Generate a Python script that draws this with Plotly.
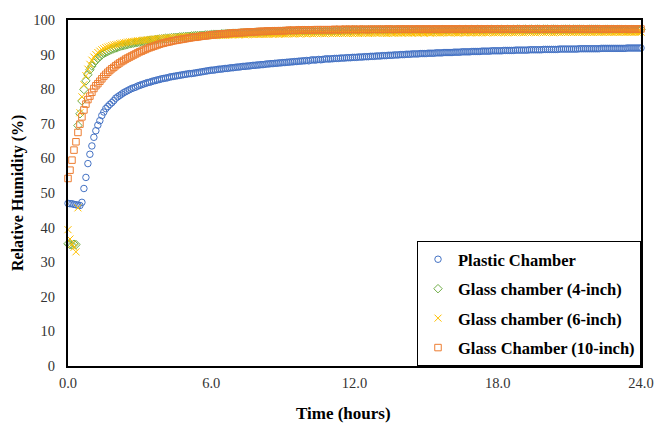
import plotly.graph_objects as go

STEP_MIN = 5  # sampling interval, minutes

plastic = [
    47.0, 46.9, 46.9, 46.7, 46.6, 46.5, 46.4, 47.3, 51.3, 54.5, 58.5, 61.2,
    63.6, 66.1, 68.0, 69.6, 70.9, 72.4, 73.4, 74.4, 75.0, 75.6, 76.1, 76.7,
    77.4, 77.8, 78.2, 78.6, 79.0, 79.3, 79.6, 79.9, 80.2, 80.4, 80.6, 80.9,
    81.1, 81.3, 81.5, 81.7, 81.9, 82.0, 82.2, 82.4, 82.5, 82.7, 82.8, 83.0,
    83.1, 83.2, 83.3, 83.5, 83.6, 83.7, 83.8, 83.9, 84.0, 84.1, 84.2, 84.3,
    84.4, 84.5, 84.5, 84.6, 84.7, 84.8, 84.9, 85.0, 85.1, 85.2, 85.3, 85.4,
    85.5, 85.5, 85.6, 85.7, 85.8, 85.8, 85.9, 86.0, 86.0, 86.1, 86.2, 86.2,
    86.3, 86.4, 86.4, 86.5, 86.6, 86.6, 86.7, 86.7, 86.8, 86.9, 86.9, 87.0,
    87.0, 87.1, 87.1, 87.2, 87.3, 87.3, 87.4, 87.4, 87.5, 87.5, 87.6, 87.6,
    87.7, 87.7, 87.8, 87.8, 87.9, 87.9, 88.0, 88.0, 88.1, 88.1, 88.2, 88.2,
    88.3, 88.2, 88.4, 88.5, 88.4, 88.5, 88.6, 88.5, 88.6, 88.7, 88.8, 88.7,
    88.8, 88.8, 88.9, 88.9, 88.9, 89.0, 89.0, 89.0, 89.1, 89.1, 89.1, 89.2,
    89.2, 89.2, 89.3, 89.3, 89.3, 89.4, 89.4, 89.4, 89.5, 89.5, 89.5, 89.6,
    89.6, 89.6, 89.7, 89.7, 89.7, 89.8, 89.8, 89.8, 89.9, 89.9, 89.9, 90.0,
    90.0, 90.0, 90.1, 90.1, 90.1, 90.2, 90.2, 90.2, 90.2, 90.3, 90.3, 90.3,
    90.3, 90.4, 90.4, 90.4, 90.4, 90.5, 90.5, 90.5, 90.5, 90.6, 90.6, 90.6,
    90.6, 90.6, 90.7, 90.7, 90.7, 90.7, 90.8, 90.8, 90.8, 90.8, 90.8, 90.9,
    90.9, 90.9, 90.9, 90.9, 91.0, 91.0, 91.0, 91.0, 91.0, 91.1, 91.1, 91.1,
    91.1, 91.1, 91.1, 91.2, 91.2, 91.2, 91.2, 91.2, 91.2, 91.3, 91.3, 91.3,
    91.3, 91.3, 91.3, 91.3, 91.4, 91.4, 91.4, 91.4, 91.4, 91.4, 91.4, 91.5,
    91.5, 91.5, 91.5, 91.5, 91.5, 91.5, 91.5, 91.6, 91.6, 91.6, 91.6, 91.6,
    91.6, 91.6, 91.6, 91.6, 91.6, 91.7, 91.7, 91.7, 91.7, 91.7, 91.7, 91.7,
    91.7, 91.7, 91.7, 91.7, 91.8, 91.8, 91.8, 91.8, 91.8, 91.8, 91.8, 91.8,
    91.8, 91.8, 91.8, 91.8, 91.8, 91.9, 91.9, 91.9, 91.9, 91.9, 91.9, 91.9,
    91.9,
]

glass_4in = [
    35.3, 35.1, 35.0, 35.2, 35.1, 69.5, 72.9, 76.6, 79.9, 82.4, 84.2, 85.6,
    86.7, 87.6, 88.3, 88.9, 89.4, 89.9, 90.3, 90.6, 90.9, 91.2, 91.5, 91.7,
    91.9, 92.1, 92.3, 92.5, 92.6, 92.8, 92.9, 93.1, 93.2, 93.3, 93.4, 93.5,
    93.6, 93.7, 93.8, 93.9, 94.0, 94.1, 94.2, 94.2, 94.3, 94.4, 94.5, 94.5,
    94.6, 94.7, 94.7, 94.8, 94.9, 94.9, 95.0, 95.0, 95.1, 95.1, 95.2, 95.2,
    95.3, 95.3, 95.4, 95.4, 95.5, 95.5, 95.5, 95.6, 95.6, 95.7, 95.7, 95.7,
    95.8, 95.8, 95.9, 95.9, 95.9, 96.0, 96.0, 96.0, 96.1, 96.1, 96.1, 96.2,
    96.2, 96.2, 96.2, 96.3, 96.3, 96.3, 96.4, 96.4, 96.4, 96.4, 96.5, 96.5,
    96.5, 96.5, 96.5, 96.6, 96.6, 96.6, 96.6, 96.7, 96.7, 96.7, 96.7, 96.7,
    96.8, 96.7, 96.8, 96.8, 96.9, 96.8, 96.8, 96.9, 96.9, 96.8, 96.9, 96.9,
    96.9, 96.9, 97.0, 96.9, 96.9, 97.0, 97.0, 96.9, 97.0, 97.0, 97.0, 97.0,
    97.0, 97.0, 97.0, 97.1, 97.0, 97.0, 97.1, 97.0, 97.1, 97.1, 97.0, 97.1,
    97.1, 97.1, 97.0, 97.1, 97.1, 97.1, 97.1, 97.2, 97.1, 97.1, 97.1, 97.1,
    97.1, 97.2, 97.1, 97.1, 97.2, 97.1, 97.2, 97.2, 97.1, 97.2, 97.2, 97.1,
    97.2, 97.2, 97.1, 97.2, 97.2, 97.2, 97.1, 97.2, 97.2, 97.2, 97.2, 97.2,
    97.2, 97.2, 97.2, 97.1, 97.2, 97.2, 97.2, 97.2, 97.3, 97.2, 97.2, 97.2,
    97.2, 97.3, 97.2, 97.2, 97.2, 97.3, 97.2, 97.2, 97.3, 97.2, 97.2, 97.3,
    97.2, 97.2, 97.3, 97.2, 97.3, 97.2, 97.2, 97.3, 97.2, 97.3, 97.2, 97.2,
    97.3, 97.2, 97.3, 97.2, 97.2, 97.3, 97.3, 97.2, 97.3, 97.2, 97.3, 97.3,
    97.2, 97.3, 97.3, 97.2, 97.3, 97.3, 97.2, 97.3, 97.3, 97.3, 97.2, 97.3,
    97.3, 97.3, 97.2, 97.3, 97.3, 97.3, 97.3, 97.2, 97.3, 97.3, 97.3, 97.3,
    97.3, 97.2, 97.3, 97.3, 97.3, 97.3, 97.3, 97.3, 97.2, 97.3, 97.3, 97.3,
    97.3, 97.3, 97.3, 97.3, 97.2, 97.3, 97.3, 97.3, 97.3, 97.3, 97.3, 97.3,
    97.3, 97.3, 97.3, 97.3, 97.3, 97.2, 97.3, 97.3, 97.3, 97.3, 97.3, 97.3,
    97.3,
]

glass_6in = [
    39.4, 36.7, 35.2, 34.3, 33.0, 45.7, 73.2, 77.8, 81.3, 83.9, 85.8, 87.2,
    88.4, 89.3, 90.0, 90.6, 91.0, 91.4, 91.7, 92.0, 92.2, 92.4, 92.6, 92.8,
    92.9, 93.0, 93.2, 93.3, 93.4, 93.5, 93.6, 93.7, 93.8, 93.8, 93.9, 94.0,
    94.0, 94.1, 94.2, 94.2, 94.3, 94.3, 94.4, 94.5, 94.5, 94.6, 94.6, 94.7,
    94.7, 94.8, 94.8, 94.8, 94.9, 94.9, 95.0, 95.0, 95.0, 95.1, 95.1, 95.1,
    95.2, 95.2, 95.2, 95.3, 95.3, 95.3, 95.3, 95.4, 95.4, 95.4, 95.4, 95.5,
    95.5, 95.5, 95.5, 95.6, 95.6, 95.6, 95.6, 95.6, 95.7, 95.7, 95.7, 95.7,
    95.7, 95.8, 95.7, 95.8, 95.8, 95.7, 95.8, 95.8, 95.9, 95.8, 95.8, 95.9,
    95.8, 95.9, 95.9, 95.8, 95.9, 95.9, 96.0, 95.9, 95.9, 96.0, 95.9, 96.0,
    96.0, 95.9, 96.0, 96.0, 96.1, 96.0, 96.0, 96.1, 96.0, 96.0, 96.1, 96.1,
    96.0, 96.1, 96.1, 96.0, 96.1, 96.1, 96.2, 96.1, 96.1, 96.0, 96.1, 96.2,
    96.1, 96.1, 96.2, 96.1, 96.1, 96.2, 96.1, 96.2, 96.2, 96.1, 96.2, 96.1,
    96.2, 96.2, 96.1, 96.2, 96.2, 96.3, 96.2, 96.1, 96.2, 96.2, 96.3, 96.2,
    96.2, 96.3, 96.2, 96.2, 96.1, 96.2, 96.3, 96.2, 96.2, 96.3, 96.2, 96.3,
    96.2, 96.3, 96.3, 96.2, 96.3, 96.2, 96.3, 96.3, 96.2, 96.3, 96.3, 96.2,
    96.3, 96.3, 96.2, 96.3, 96.4, 96.3, 96.3, 96.2, 96.3, 96.3, 96.4, 96.3,
    96.3, 96.4, 96.3, 96.3, 96.2, 96.3, 96.4, 96.3, 96.3, 96.4, 96.3, 96.3,
    96.4, 96.3, 96.3, 96.4, 96.3, 96.4, 96.3, 96.3, 96.4, 96.4, 96.3, 96.4,
    96.3, 96.4, 96.4, 96.3, 96.4, 96.3, 96.4, 96.4, 96.3, 96.4, 96.4, 96.5,
    96.4, 96.3, 96.4, 96.4, 96.5, 96.4, 96.4, 96.3, 96.4, 96.4, 96.5, 96.4,
    96.4, 96.5, 96.4, 96.4, 96.3, 96.4, 96.5, 96.4, 96.4, 96.5, 96.4, 96.4,
    96.5, 96.4, 96.4, 96.5, 96.4, 96.5, 96.4, 96.4, 96.5, 96.4, 96.5, 96.4,
    96.4, 96.5, 96.5, 96.4, 96.5, 96.4, 96.5, 96.5, 96.4, 96.5, 96.4, 96.5,
    96.5, 96.4, 96.5, 96.5, 96.4, 96.5, 96.5, 96.5, 96.4, 96.5, 96.5, 96.5,
    96.5,
]

glass_10in = [
    54.2, 56.6, 59.5, 62.4, 64.8, 67.5, 69.9, 72.0, 74.0, 75.7, 77.0, 78.0,
    79.1, 80.2, 81.0, 81.6, 82.3, 83.0, 83.7, 84.3, 84.9, 85.4, 85.9, 86.3,
    86.8, 87.2, 87.6, 88.0, 88.3, 88.7, 89.0, 89.3, 89.6, 89.9, 90.2, 90.5,
    90.8, 91.0, 91.3, 91.5, 91.8, 92.0, 92.2, 92.4, 92.6, 92.8, 93.0, 93.2,
    93.3, 93.5, 93.6, 93.7, 93.9, 94.0, 94.1, 94.2, 94.3, 94.4, 94.5, 94.6,
    94.7, 94.8, 94.9, 95.0, 95.0, 95.1, 95.2, 95.3, 95.4, 95.4, 95.5, 95.6,
    95.7, 95.7, 95.8, 95.8, 95.9, 95.9, 96.0, 96.0, 96.1, 96.1, 96.2, 96.2,
    96.3, 96.3, 96.3, 96.4, 96.4, 96.4, 96.5, 96.5, 96.5, 96.6, 96.6, 96.6,
    96.7, 96.7, 96.7, 96.7, 96.8, 96.8, 96.8, 96.8, 96.8, 96.9, 96.9, 96.9,
    96.9, 96.9, 97.0, 97.0, 97.0, 97.0, 97.0, 97.0, 97.1, 97.1, 97.1, 97.1,
    97.1, 97.1, 97.1, 97.1, 97.2, 97.2, 97.2, 97.2, 97.2, 97.2, 97.2, 97.2,
    97.2, 97.2, 97.3, 97.2, 97.2, 97.3, 97.2, 97.3, 97.3, 97.2, 97.3, 97.3,
    97.3, 97.2, 97.3, 97.3, 97.3, 97.3, 97.2, 97.3, 97.3, 97.3, 97.3, 97.3,
    97.3, 97.3, 97.3, 97.3, 97.3, 97.4, 97.3, 97.3, 97.3, 97.3, 97.3, 97.4,
    97.3, 97.3, 97.4, 97.3, 97.3, 97.3, 97.4, 97.3, 97.3, 97.4, 97.3, 97.3,
    97.4, 97.3, 97.3, 97.4, 97.3, 97.4, 97.3, 97.3, 97.4, 97.3, 97.4, 97.4,
    97.3, 97.4, 97.3, 97.4, 97.4, 97.3, 97.4, 97.4, 97.3, 97.4, 97.4, 97.4,
    97.3, 97.4, 97.4, 97.4, 97.3, 97.4, 97.4, 97.4, 97.4, 97.3, 97.4, 97.4,
    97.4, 97.4, 97.3, 97.4, 97.4, 97.4, 97.4, 97.4, 97.3, 97.4, 97.4, 97.4,
    97.4, 97.4, 97.4, 97.3, 97.4, 97.4, 97.4, 97.4, 97.4, 97.4, 97.3, 97.4,
    97.4, 97.4, 97.4, 97.4, 97.4, 97.3, 97.4, 97.4, 97.4, 97.4, 97.4, 97.4,
    97.4, 97.3, 97.4, 97.4, 97.4, 97.4, 97.4, 97.4, 97.4, 97.3, 97.4, 97.4,
    97.4, 97.4, 97.4, 97.4, 97.4, 97.4, 97.3, 97.4, 97.4, 97.4, 97.4, 97.4,
    97.4, 97.4, 97.4, 97.4, 97.4, 97.4, 97.4, 97.3, 97.4, 97.4, 97.4, 97.4,
    97.4,
]

series_names = [
    "Plastic Chamber",
    "Glass chamber (4-inch)",
    "Glass chamber (6-inch)",
    "Glass Chamber (10-inch)",
]
x_tick_vals = [0, 6, 12, 18, 24]
x_tick_text = ["0.0", "6.0", "12.0", "18.0", "24.0"]

colors = ["#4472C4", "#70AD47", "#FFC000", "#ED7D31"]
symbols = ["circle-open", "diamond-open", "x-thin-open", "square-open"]
sizes = [6.5, 6.5, 7, 6.5]

SERIF = "Liberation Serif, Times New Roman, serif"

fig = go.Figure()
for k, vals in enumerate([plastic, glass_4in, glass_6in, glass_10in]):
    t = [i * STEP_MIN / 60 for i in range(len(vals))]
    fig.add_trace(go.Scatter(
        x=t, y=vals, mode="markers", name=series_names[k],
        legendgroup="g%d" % k,
        cliponaxis=False,
        marker=dict(symbol=symbols[k], size=sizes[k], color=colors[k],
                    line=dict(width=1, color=colors[k])),
    ))

axis_common = dict(
    showline=True, linecolor="black", linewidth=2, mirror=True,
    showgrid=False, zeroline=False, ticks="", automargin=False,
    tickfont=dict(family=SERIF, size=14.5, color="#333333"),
)

fig.update_layout(
    width=654, height=425,
    margin=dict(l=68, r=13, t=20, b=59),
    paper_bgcolor="white", plot_bgcolor="white",
    xaxis=dict(range=[0, 24], tickvals=x_tick_vals, ticktext=x_tick_text,
               ticklabelstandoff=3, **axis_common),
    yaxis=dict(range=[0, 100], dtick=10, ticklabelstandoff=8, **axis_common),
    showlegend=True,
    legend=dict(
        x=1, y=0, xanchor="right", yanchor="bottom",
        bgcolor="white", bordercolor="black", borderwidth=1,
        font=dict(family=SERIF, size=16.5, color="black", weight="bold"),
        tracegroupgap=5, itemwidth=30,
    ),
    annotations=[
        dict(text="<b>Time (hours)</b>", xref="paper", yref="paper",
             x=0.48, y=0, yshift=-47, showarrow=False,
             xanchor="center", yanchor="middle",
             font=dict(family=SERIF, size=17, color="black")),
        dict(text="<b>Relative Humidity (%)</b>", xref="paper", yref="paper",
             x=0, xshift=-50, y=0.5, textangle=-90, showarrow=False,
             xanchor="center", yanchor="middle",
             font=dict(family=SERIF, size=16, color="black")),
    ],
)

fig.write_html(
    "out.html",
    config={"displayModeBar": False},
    post_script="document.body.style.margin='0';document.body.style.overflow='hidden';",
)
